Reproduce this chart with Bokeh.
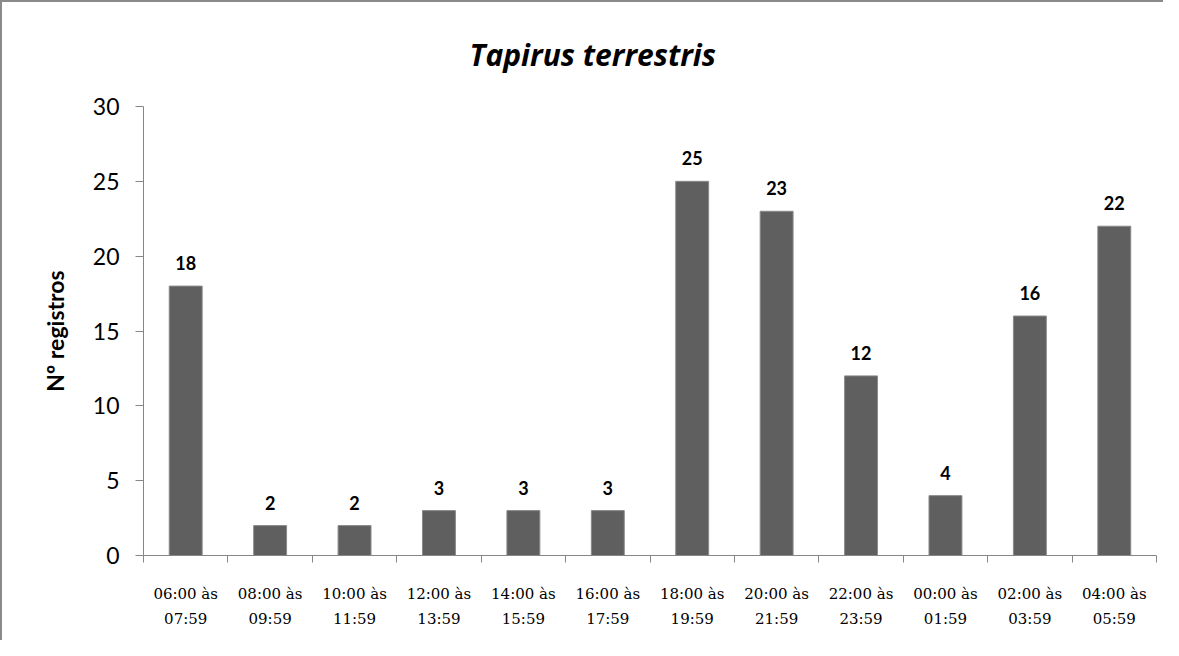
from bokeh.plotting import figure
from bokeh.models import (ColumnDataSource, LinearAxis, FixedTicker, Range1d,
                          LabelSet)
from bokeh.core.properties import value
from bokeh.embed import file_html
from bokeh.resources import INLINE

# ---- data ----
categories = ["06:00 às\n07:59", "08:00 às\n09:59", "10:00 às\n11:59",
              "12:00 às\n13:59", "14:00 às\n15:59", "16:00 às\n17:59",
              "18:00 às\n19:59", "20:00 às\n21:59", "22:00 às\n23:59",
              "00:00 às\n01:59", "02:00 às\n03:59", "04:00 às\n05:59"]
values = [18, 2, 2, 3, 3, 3, 25, 23, 12, 4, 16, 22]
y_ticks = [0, 5, 10, 15, 20, 25, 30]
title_text = "Tapirus terrestris"
y_label = "Nº registros"

n = len(categories)
centers = [i + 0.5 for i in range(n)]
bounds = list(range(n + 1))
src = ColumnDataSource(dict(x=centers, top=values,
                            lbl=[str(v) for v in values]))

p = figure(width=1163, height=640, output_backend="svg", toolbar_location=None,
           x_range=Range1d(0, n), y_range=Range1d(0, 30),
           x_axis_location=None, y_axis_location=None,
           min_border_left=141, min_border_right=9, min_border_top=104,
           min_border_bottom=87)
p.styles = {"border-top": "2px solid #8a8a8a", "border-left": "2px solid #8a8a8a"}
p.outline_line_color = None
p.xgrid.visible = False
p.ygrid.visible = False
p.background_fill_color = "white"
p.border_fill_color = "white"

p.title.text = title_text
p.title.align = "left"
p.title.offset = 326
p.title.text_font = "Open Sans"
p.title.text_font_style = "bold italic"
p.title.text_font_size = "30px"
p.title.text_color = "black"
p.title.vertical_align = "top"
p.title.standoff = 60

p.vbar(x="x", top="top", width=0.39, source=src,
       fill_color="#5f5f5f", line_color="#8a8a8a", line_width=1)

labels = LabelSet(x="x", y="top", text="lbl", source=src, text_align="center",
                  text_baseline="bottom", y_offset=16, text_font=value("Lato"),
                  text_font_style="bold", text_font_size="18px",
                  text_color="black")
p.add_layout(labels)

# y axis
yax = LinearAxis(ticker=FixedTicker(ticks=y_ticks))
yax.axis_label = y_label
yax.axis_label_text_font = "Lato"
yax.axis_label_text_font_style = "bold"
yax.axis_label_text_font_size = "23px"
yax.axis_label_text_color = "black"
yax.axis_label_standoff = 21
yax.major_label_text_font = "Lato"
yax.major_label_text_font_size = "23px"
yax.major_label_text_color = "black"
yax.major_label_standoff = 16
yax.axis_line_color = "#868686"
yax.major_tick_line_color = "#868686"
yax.major_tick_out = 8
yax.major_tick_in = 0
yax.minor_tick_line_color = None
p.add_layout(yax, "left")

# x axis: labels at category centers, ticks (minor) at category boundaries
xax = LinearAxis(ticker=FixedTicker(ticks=centers, minor_ticks=bounds))
xax.major_label_overrides = {c: lab for c, lab in zip(centers, categories)}
xax.major_label_text_font = "DejaVu Serif"
xax.major_label_text_font_size = "15px"
xax.major_label_text_line_height = 1.4
xax.major_label_text_color = "black"
xax.major_label_standoff = 22
xax.axis_line_color = "#868686"
xax.major_tick_line_color = None
xax.minor_tick_line_color = "#868686"
xax.minor_tick_out = 7
xax.minor_tick_in = 0
p.add_layout(xax, "below")

open("out.html", "w").write(file_html(p, INLINE))
